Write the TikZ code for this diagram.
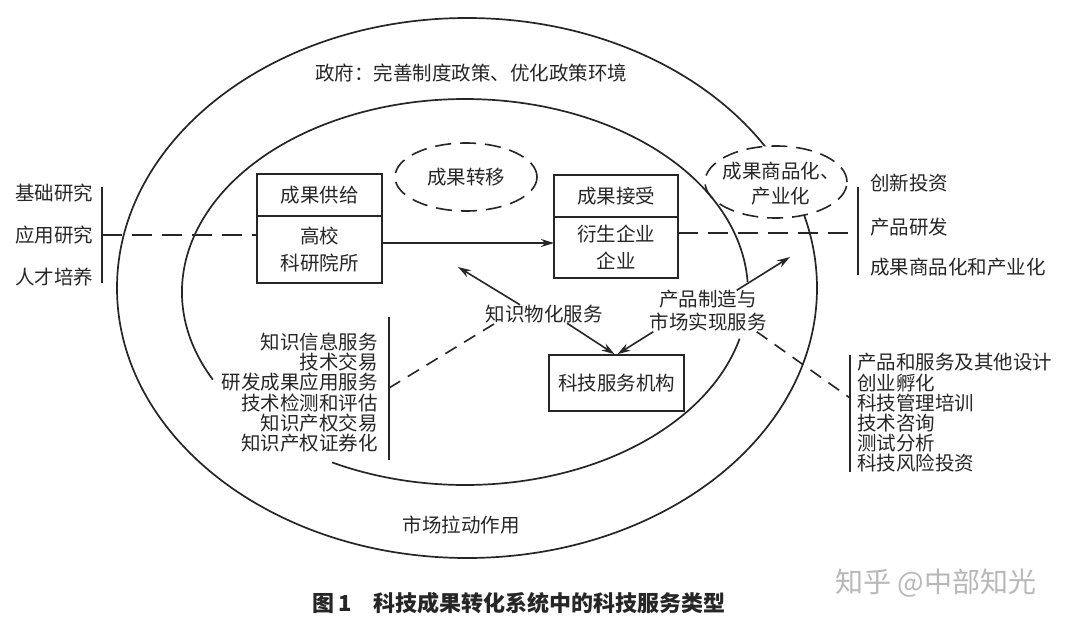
\documentclass[tikz,border=0pt]{standalone}
\usepackage{fontspec}
\setmainfont{Noto Sans CJK SC}
\usetikzlibrary{shapes.geometric, arrows.meta, positioning}

\begin{document}
\begin{tikzpicture}[
		x=1pt, y=-1pt,
		% Define styles
		every node/.style={font=\fontsize{19.5}{20}\selectfont, text=black!85, inner sep=0pt},
		ring/.style={line width=1.7pt, draw=black!85},
		rule/.style={line width=1.8pt, draw=black!85},
		boxhead/.style={rectangle, minimum width=125pt, minimum height=42pt, text centered, draw=black!85, line width=1.7pt, outer sep=0pt},
		boxbody/.style={rectangle, minimum width=125pt, align=center, draw=black!85, line width=1.7pt, outer sep=0pt, font=\fontsize{19.5}{27}\selectfont},
		bubble/.style={ellipse, draw=black!85, line width=1.6pt, dash pattern=on 16pt off 9pt, fill=white},
		arrow/.style={line width=1.6pt, draw=black!85, -{Stealth[length=13pt, width=8pt]}},
		dashedline/.style={line width=1.7pt, draw=black!85, dash pattern=on 20pt off 10pt},
		dashedlink/.style={line width=1.6pt, draw=black!85, dash pattern=on 13pt off 9pt},
		itemlist/.style={font=\fontsize{19.5}{20.2}\selectfont}
		]
		
		% Canvas
		\fill[white] (0,0) rectangle (1080,627);
		\useasboundingbox (0,0) rectangle (1080,627);
		
		% Government ring
		\draw[ring] (467,288) ellipse [x radius=350, y radius=270];
		\node (gov) at (471,73) {政府：完善制度政策、优化政策环境};
		
		% Transfer bubbles
		\node (transfer) [bubble, minimum width=142pt, minimum height=68pt] at (466,177) {成果转移};
		\node (commerce) [bubble, minimum width=142pt, minimum height=72pt] at (776,182) {};
		\node (commercetext) [align=center, font=\fontsize{19.5}{25}\selectfont] at (781,184) {成果商品化、\\产业化};
		
		% Market ring (open where the texts sit)
		\draw[ring] (465,292) ++(153:283 and 193) arc[start angle=153, end angle=357, x radius=283, y radius=193];
		\draw[ring] (465,292) ++(14:283 and 193) arc[start angle=14, end angle=118, x radius=283, y radius=193];
		\node (market) at (461,525) {市场拉动作用};
		
		% Supply and receive boxes
		\node (supplyhead) [boxhead] at (319.5,195) {成果供给};
		\node (supplybody) [boxbody, minimum height=67pt, below=0pt of supplyhead] {高校\\科研院所};
		\node (receivehead) [boxhead, minimum width=124pt] at (616,196) {成果接受};
		\node (receivebody) [boxbody, minimum width=124pt, minimum height=61pt, below=0pt of receivehead] {衍生企业\\企业};
		
		% Service agency
		\node (service) [rectangle, draw=black!85, line width=1.7pt, minimum width=135pt, minimum height=56pt] at (616.5,383) {科技服务机构};
		\node (material) at (544,314) {知识物化服务};
		\node (product) [align=center, font=\fontsize{19.5}{23}\selectfont] at (708,311) {产品制造与\\市场实现服务};
		\coordinate (mtarget) at (458,267);
		\coordinate (ptarget) at (790,257);
		
		% Left list
		\node (basic) [anchor=west] at (15,193) {基础研究};
		\node (applied) [anchor=west] at (15,235) {应用研究};
		\node (talent) [anchor=west] at (15,277) {人才培养};
		\coordinate (lbartop) at (102,187);
		\coordinate (lbarbot) at (102,283);
		\coordinate (lbar) at (102,235);
		
		% Right list
		\node (invest) [anchor=west] at (870,183) {创新投资};
		\node (develop) [anchor=west] at (870,227) {产品研发};
		\node (industry) [anchor=west] at (870,267) {成果商品化和产业化};
		\coordinate (rbartop) at (858,187);
		\coordinate (rbarbot) at (858,275);
		\coordinate (rbar) at (858,233);
		
		% Lower lists
		\node (infolist) [itemlist, align=right, anchor=east] at (378,392.5) {知识信息服务\\技术交易\\研发成果应用服务\\技术检测和评估\\知识产权交易\\知识产权证券化};
		\coordinate (llbartop) at (389,317);
		\coordinate (llbarbot) at (389,460);
		\coordinate (llbar) at (389,388);
		\node (designlist) [itemlist, align=left, anchor=west] at (857,413) {产品和服务及其他设计\\创业孵化\\科技管理培训\\技术咨询\\测试分析\\科技风险投资};
		\coordinate (lrbartop) at (850,355);
		\coordinate (lrbarbot) at (850,472);
		\coordinate (lrbar) at (850,398);
		
		% Brackets
		\draw[rule] (lbartop) -- (lbarbot);
		\draw[rule] (rbartop) -- (rbarbot);
		\draw[rule] (llbartop) -- (llbarbot);
		\draw[rule] (lrbartop) -- (lrbarbot);
		
		% Draw connectors
		\draw[dashedline] (lbar) -- ([yshift=14.5pt]supplybody.west);
		\draw[arrow] ([yshift=6.5pt]supplybody.east) -- ([yshift=4.5pt]receivebody.west);
		\draw[dashedline] ([yshift=14.5pt]receivebody.east) -- (rbar);
		\draw[arrow] ([xshift=-24pt]material.north) -- (mtarget);
		\draw[arrow] ([xshift=23pt]material.south) -- ([xshift=-2pt]service.north);
		\draw[arrow] ([xshift=4pt]product.south west) -- ([xshift=1pt]service.north);
		\draw[arrow] ([xshift=-30pt]product.north east) -- (ptarget);
		\draw[dashedlink] (llbar) -- ([xshift=10pt]material.south west);
		\draw[dashedlink] ([xshift=-10pt]product.south east) -- (lrbar);
		
		% Caption and mark
		\node (caption) [font=\fontsize{22}{22}\selectfont\bfseries] at (519,603) {图\,1\quad 科技成果转化系统中的科技服务类型};
		\node (mark) [text=black!28, font=\fontsize{28}{28}\selectfont] at (936,583) {知乎 @中部知光};
		
	\end{tikzpicture}
\end{document}
